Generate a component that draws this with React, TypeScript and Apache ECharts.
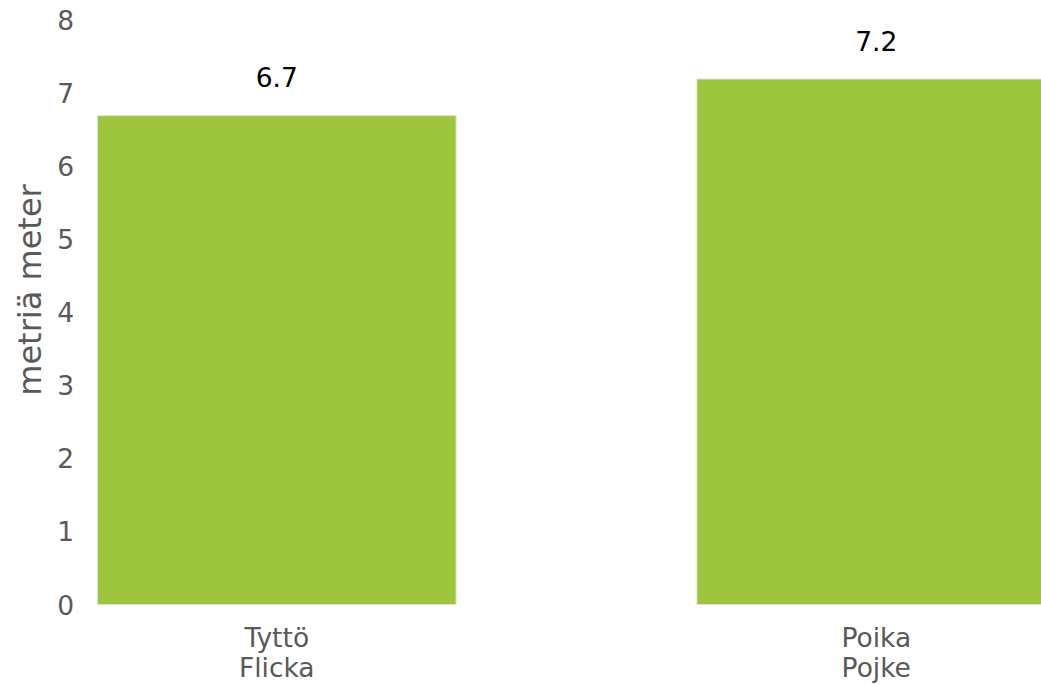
import React, { useEffect, useRef } from "react";
import * as echarts from "echarts";

const categories = ["Tyttö\nFlicka", "Poika\nPojke"];
const values = [6.7, 7.2];
const yTicks = [0, 1, 2, 3, 4, 5, 6, 7, 8];
const yTitle = "metriä meter";

export default function App() {
  const ref = useRef<HTMLDivElement>(null);
  useEffect(() => {
    document.body.style.margin = "0";
    const chart = echarts.init(ref.current!, null, { renderer: "svg" });
    chart.setOption({
      animation: false,
      textStyle: { fontFamily: "DejaVu Sans" },
      grid: { left: 0, right: 0, top: 20, bottom: 79 },
      xAxis: {
        type: "category",
        data: categories,
        axisLine: { show: false },
        axisTick: { show: false },
        axisLabel: {
          color: "#595959",
          fontSize: 26.5,
          lineHeight: 30,
          margin: 17,
          fontFamily: "DejaVu Sans",
        },
      },
      yAxis: {
        type: "value",
        min: yTicks[0],
        max: yTicks[yTicks.length - 1],
        interval: 1,
        offset: -105,
        splitLine: { show: false },
        axisLine: { show: false },
        axisTick: { show: false },
        axisLabel: {
          color: "#595959",
          fontSize: 26.5,
          margin: 8,
          fontFamily: "DejaVu Sans",
        },
      },
      graphic: [
        {
          type: "text",
          x: 53,
          y: 290,
          rotation: Math.PI / 2,
          style: {
            text: yTitle,
            fontSize: 32,
            fill: "#595959",
            fontFamily: "DejaVu Sans",
            align: "center",
            verticalAlign: "middle",
          },
        },
      ],
      series: [
        {
          type: "bar",
          data: values,
          barCategoryGap: "40%",
          itemStyle: { color: "#9dc53e", borderColor: "#e2e2e2", borderWidth: 1 },
          label: {
            show: true,
            position: "top",
            distance: 24,
            color: "#000",
            fontSize: 26.5,
            fontFamily: "DejaVu Sans",
            formatter: (p: any) => p.value.toFixed(1),
          },
        },
      ],
    });
    return () => chart.dispose();
  }, []);
  return (
    <div style={{ width: 1041, height: 684, overflow: "hidden", position: "relative" }}>
      <div ref={ref} style={{ width: 1199, height: 684, position: "absolute", left: -23, top: 0 }} />
    </div>
  );
}
